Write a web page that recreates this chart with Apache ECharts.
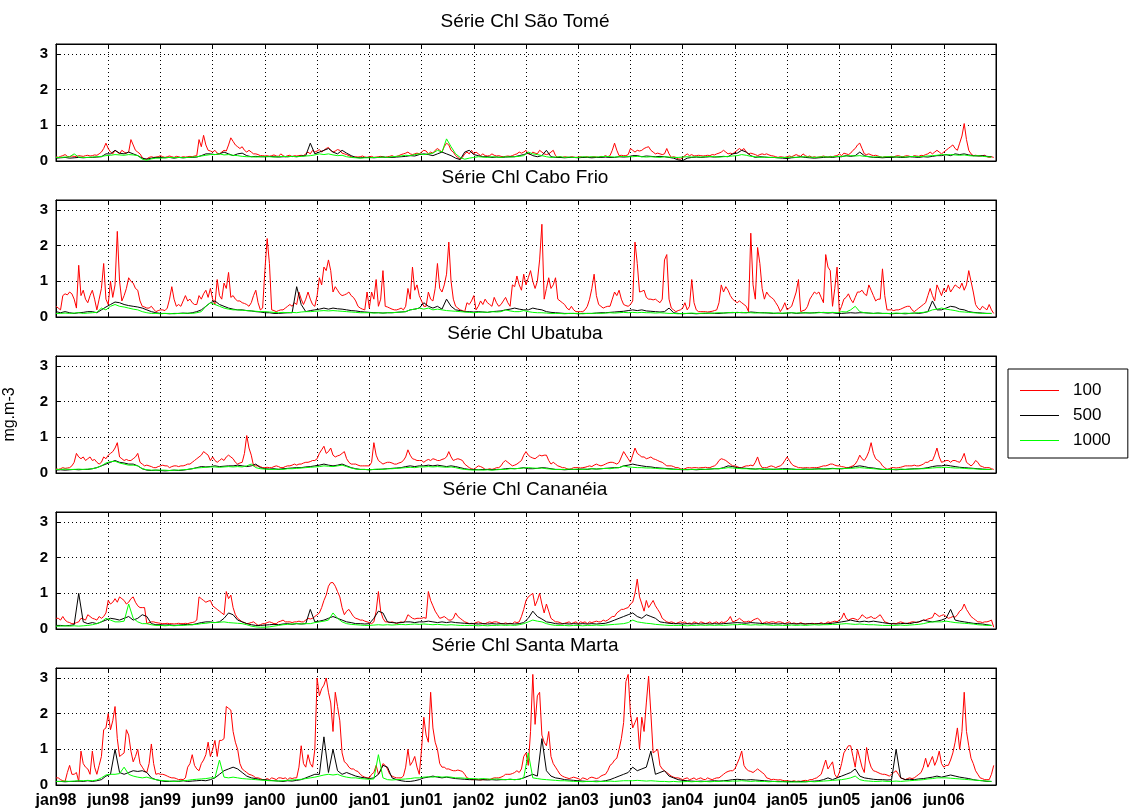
<!DOCTYPE html>
<html><head><meta charset="utf-8">
<script src="https://cdn.jsdelivr.net/npm/echarts/dist/echarts.min.js"></script>
<style>html,body{margin:0;padding:0;background:#fff}#c{width:1129px;height:812px}</style>
</head><body><div id="c"></div>
<script>
// x axis: 8-day composites, index 0 = jan98; tick every 23 composites
const xTickLabels = ['jan98','jun98','jan99','jun99','jan00','jun00','jan01','jun01','jan02','jun02','jan03','jun03','jan04','jun04','jan05','jun05','jan06','jun06'];
const panelTitles = ['Série Chl São Tomé','Série Chl Cabo Frio','Série Chl Ubatuba','Série Chl Cananéia','Série Chl Santa Marta'];
const seriesNames = ['100','500','1000'];
const yLabel = 'mg.m-3';

// ---- São Tomé (100 m: every composite; 500/1000 m: every 2nd composite) ----
const saoTome100 = [
0.12,0.1,0.13,0.15,0.18,0.13,0.12,0.14,0.13,0.12,0.15,0.14,0.13,0.15,0.16,0.14,0.15,0.17,0.16,0.2,0.25,0.35,0.5,
0.35,0.25,0.2,0.3,0.25,0.2,0.3,0.25,0.22,0.25,0.6,0.45,0.3,0.25,0.2,0.1,0.05,0.06,0.1,0.12,0.1,0.11,0.12,
0.15,0.12,0.1,0.12,0.14,0.12,0.1,0.13,0.12,0.1,0.12,0.11,0.12,0.13,0.12,0.14,0.15,0.6,0.4,0.72,0.45,0.3,0.28,
0.25,0.3,0.22,0.2,0.25,0.3,0.28,0.45,0.65,0.55,0.45,0.4,0.35,0.4,0.3,0.25,0.3,0.25,0.2,0.2,0.18,0.15,0.15,
0.14,0.15,0.13,0.15,0.17,0.14,0.13,0.2,0.15,0.12,0.15,0.16,0.12,0.15,0.14,0.15,0.16,0.15,0.2,0.25,0.2,0.3,0.25,
0.28,0.32,0.25,0.3,0.35,0.38,0.3,0.25,0.28,0.32,0.3,0.22,0.2,0.18,0.15,0.12,0.1,0.12,0.11,0.12,0.14,0.11,0.1,
0.12,0.13,0.1,0.11,0.12,0.13,0.12,0.1,0.12,0.13,0.15,0.12,0.13,0.15,0.18,0.2,0.22,0.25,0.2,0.18,0.2,0.22,0.2,
0.25,0.3,0.28,0.2,0.25,0.22,0.3,0.35,0.3,0.25,0.4,0.5,0.45,0.3,0.25,0.15,0.1,0.05,0.1,0.2,0.25,0.2,0.3,
0.2,0.25,0.2,0.15,0.2,0.15,0.14,0.15,0.2,0.16,0.14,0.15,0.13,0.12,0.13,0.14,0.13,0.15,0.18,0.2,0.25,0.22,0.25,
0.3,0.2,0.18,0.25,0.22,0.2,0.3,0.25,0.2,0.18,0.2,0.25,0.3,0.15,0.1,0.12,0.1,0.12,0.11,0.1,0.12,0.11,0.1,
0.11,0.12,0.1,0.11,0.12,0.1,0.11,0.12,0.11,0.1,0.13,0.12,0.15,0.12,0.15,0.3,0.5,0.3,0.15,0.16,0.15,0.15,0.18,
0.35,0.3,0.25,0.3,0.28,0.3,0.35,0.38,0.4,0.3,0.25,0.2,0.22,0.2,0.18,0.2,0.35,0.2,0.1,0.12,0.1,0.06,0.05,
0.1,0.15,0.2,0.15,0.18,0.14,0.15,0.16,0.15,0.14,0.15,0.16,0.15,0.18,0.17,0.2,0.22,0.25,0.3,0.25,0.2,0.22,0.2,
0.25,0.3,0.35,0.3,0.35,0.25,0.2,0.22,0.2,0.18,0.15,0.18,0.2,0.18,0.2,0.17,0.15,0.14,0.12,0.1,0.12,0.11,0.1,
0.12,0.14,0.12,0.15,0.18,0.15,0.13,0.2,0.15,0.12,0.14,0.1,0.12,0.1,0.11,0.12,0.14,0.12,0.1,0.13,0.12,0.14,0.15,
0.2,0.15,0.22,0.2,0.18,0.22,0.3,0.35,0.45,0.5,0.35,0.2,0.18,0.2,0.17,0.15,0.16,0.14,0.12,0.1,0.12,0.11,0.12,
0.13,0.12,0.14,0.15,0.13,0.12,0.14,0.15,0.13,0.12,0.15,0.14,0.13,0.16,0.15,0.18,0.2,0.25,0.2,0.25,0.3,0.25,0.2,
0.25,0.3,0.35,0.4,0.45,0.35,0.3,0.5,0.7,1.05,0.6,0.3,0.2,0.15,0.16,0.15,0.14,0.15,0.16,0.12,0.1,0.12,0.1];
const saoTome500 = [
0.08,0.09,0.1,0.08,0.09,0.1,0.09,0.1,0.1,0.11,0.12,0.2,
0.2,0.3,0.22,0.2,0.25,0.2,0.15,0.08,0.05,0.08,0.1,
0.1,0.09,0.1,0.08,0.1,0.09,0.1,0.1,0.11,0.15,0.2,0.2,
0.18,0.2,0.25,0.2,0.15,0.2,0.22,0.15,0.12,0.13,0.12,
0.12,0.13,0.12,0.11,0.12,0.12,0.13,0.12,0.14,0.15,0.5,0.2,
0.25,0.3,0.35,0.25,0.2,0.3,0.22,0.15,0.1,0.09,0.1,
0.1,0.09,0.1,0.11,0.1,0.1,0.11,0.12,0.13,0.15,0.14,0.18,
0.2,0.18,0.15,0.2,0.25,0.2,0.15,0.08,0.04,0.25,0.3,
0.18,0.15,0.12,0.12,0.1,0.11,0.1,0.11,0.12,0.12,0.15,0.18,
0.22,0.15,0.12,0.15,0.3,0.12,0.1,0.1,0.09,0.1,0.1,
0.09,0.1,0.1,0.09,0.1,0.1,0.11,0.1,0.1,0.12,0.11,0.12,
0.15,0.15,0.12,0.14,0.13,0.12,0.13,0.12,0.1,0.08,0.03,
0.01,0.08,0.1,0.11,0.1,0.11,0.12,0.11,0.12,0.13,0.12,0.2,
0.22,0.3,0.25,0.15,0.1,0.12,0.11,0.1,0.1,0.09,0.08,
0.07,0.09,0.1,0.12,0.1,0.09,0.08,0.09,0.1,0.11,0.1,0.12,
0.12,0.15,0.13,0.15,0.25,0.15,0.12,0.1,0.1,0.09,0.1,
0.1,0.11,0.1,0.1,0.12,0.11,0.1,0.12,0.11,0.13,0.15,0.15,
0.18,0.15,0.2,0.18,0.2,0.17,0.15,0.14,0.15,0.13,0.12];
const saoTome1000 = [
0.1,0.1,0.11,0.12,0.2,0.11,0.1,0.1,0.11,0.12,0.13,0.15,
0.16,0.18,0.17,0.16,0.18,0.17,0.15,0.05,0.02,0.06,0.08,
0.08,0.09,0.1,0.09,0.1,0.09,0.1,0.11,0.12,0.14,0.16,0.18,
0.18,0.2,0.17,0.18,0.16,0.15,0.13,0.12,0.12,0.11,0.12,
0.12,0.12,0.11,0.12,0.13,0.12,0.13,0.12,0.13,0.14,0.15,0.17,
0.2,0.18,0.2,0.17,0.15,0.16,0.12,0.1,0.09,0.08,0.09,
0.09,0.1,0.1,0.11,0.1,0.12,0.13,0.14,0.16,0.15,0.18,0.2,
0.18,0.2,0.22,0.3,0.25,0.62,0.4,0.2,0.1,0.05,0.08,
0.1,0.12,0.11,0.1,0.12,0.11,0.1,0.12,0.11,0.12,0.13,0.15,
0.25,0.2,0.18,0.15,0.12,0.1,0.11,0.12,0.1,0.11,0.1,
0.1,0.12,0.11,0.12,0.11,0.12,0.13,0.12,0.11,0.12,0.13,0.12,
0.12,0.13,0.12,0.11,0.12,0.11,0.1,0.12,0.11,0.1,0.1,
0.11,0.12,0.11,0.12,0.11,0.12,0.13,0.12,0.11,0.12,0.13,0.14,
0.15,0.18,0.16,0.13,0.12,0.1,0.11,0.1,0.1,0.09,0.1,
0.1,0.11,0.1,0.11,0.12,0.11,0.1,0.11,0.12,0.11,0.12,0.13,
0.13,0.14,0.15,0.14,0.15,0.13,0.12,0.11,0.12,0.11,0.12,
0.12,0.11,0.12,0.11,0.12,0.13,0.12,0.13,0.14,0.15,0.16,0.18,
0.17,0.18,0.17,0.16,0.17,0.15,0.14,0.15,0.13,0.12,0.11];

// ---- Cabo Frio ----
const caboFrio100 = [
0.3,0.25,0.2,0.6,0.65,0.62,0.7,0.65,0.5,0.25,1.45,0.6,0.75,0.5,0.4,0.6,0.75,0.5,0.2,0.5,0.8,1.5,0.5,
0.35,1.0,0.55,0.9,2.4,1.0,0.45,0.6,0.8,1.1,1.0,0.95,0.8,0.75,0.45,0.3,0.28,0.25,0.25,0.3,0.22,0.15,0.18,
0.2,0.2,0.18,0.25,0.5,0.85,0.5,0.3,0.35,0.3,0.45,0.6,0.45,0.5,0.4,0.35,0.35,0.6,0.5,0.65,0.75,0.55,0.8,
0.5,0.35,1.05,0.6,0.5,0.95,0.8,1.25,0.55,0.6,0.5,0.45,0.45,0.4,0.38,0.35,0.3,0.4,0.6,0.75,0.4,0.2,0.25,
1.3,2.2,1.5,0.2,0.18,0.15,0.18,0.2,0.2,0.25,0.3,0.35,0.3,0.4,0.35,0.7,0.5,0.35,0.5,0.7,0.5,0.35,0.3,
0.6,1.1,0.9,1.4,1.3,1.6,1.3,0.7,0.85,0.75,0.65,0.6,0.62,0.65,0.7,0.6,0.55,0.45,0.3,0.25,0.22,0.2,0.7,
0.25,0.7,0.5,1.05,0.3,0.5,1.3,0.3,0.28,0.25,0.22,0.2,0.2,0.22,0.25,0.2,0.3,0.8,0.5,1.4,0.75,0.9,0.6,
0.45,0.3,0.3,0.7,0.5,0.45,0.8,1.5,0.8,0.7,0.9,1.2,2.1,1.0,0.5,0.3,0.25,0.2,0.18,0.15,0.4,0.35,0.45,
0.6,0.2,0.3,0.45,0.35,0.5,0.4,0.35,0.3,0.55,0.4,0.3,0.35,0.45,0.55,0.4,0.3,0.9,0.85,1.15,0.9,0.75,1.2,
0.9,1.1,1.3,1.0,0.8,1.0,1.6,2.6,0.5,0.8,1.1,0.8,0.9,1.1,0.5,0.45,0.4,0.35,0.25,0.2,0.3,0.2,0.15,
0.15,0.15,0.15,0.2,0.3,0.5,0.8,1.2,0.6,0.35,0.3,0.25,0.28,0.3,0.3,0.5,0.7,0.6,0.75,0.5,0.35,0.32,0.3,
0.35,0.45,2.1,1.5,0.7,0.72,0.75,0.55,0.5,0.5,0.48,0.5,0.45,0.4,0.5,1.6,1.75,0.5,0.25,0.2,0.15,0.18,0.2,
0.25,0.4,0.2,0.3,1.05,0.4,0.2,0.15,0.15,0.15,0.15,0.14,0.15,0.16,0.18,0.2,0.4,0.9,0.7,0.85,0.75,0.6,0.5,
0.45,0.4,0.45,0.4,0.35,0.3,0.15,2.35,0.9,0.5,1.95,1.5,0.8,0.5,0.7,0.6,0.55,0.5,0.4,0.3,0.15,0.25,0.4,
0.2,0.25,0.3,0.5,0.7,1.05,0.15,0.18,0.2,0.3,0.5,0.6,0.7,0.65,0.7,0.55,0.4,1.75,1.4,1.3,0.3,0.8,1.4,
0.15,0.3,0.5,0.55,0.65,0.5,0.4,0.55,0.7,0.7,0.75,0.65,0.6,0.9,0.75,0.6,0.45,0.5,0.5,1.35,0.6,0.2,0.2,
0.2,0.18,0.2,0.2,0.22,0.25,0.28,0.3,0.3,0.2,0.15,0.2,0.25,0.3,0.35,0.4,0.6,0.8,0.6,0.45,0.9,0.75,0.6,
0.8,0.7,0.9,0.7,0.8,0.9,0.85,0.8,0.95,0.75,0.9,1.3,1.0,0.7,0.35,0.25,0.2,0.3,0.25,0.2,0.35,0.2,0.1];
const caboFrio500 = [
0.15,0.12,0.15,0.12,0.1,0.12,0.13,0.15,0.15,0.12,0.2,0.28,
0.35,0.42,0.4,0.35,0.32,0.3,0.28,0.25,0.2,0.15,0.12,
0.1,0.1,0.09,0.1,0.1,0.11,0.1,0.12,0.15,0.2,0.3,0.4,
0.45,0.35,0.3,0.25,0.22,0.2,0.2,0.18,0.17,0.15,0.14,
0.12,0.12,0.1,0.1,0.11,0.12,0.12,0.85,0.35,0.15,0.18,0.2,
0.22,0.25,0.22,0.25,0.23,0.22,0.2,0.18,0.17,0.15,0.14,
0.13,0.12,0.12,0.11,0.12,0.12,0.13,0.14,0.15,0.2,0.22,0.25,
0.4,0.3,0.25,0.3,0.22,0.5,0.3,0.2,0.18,0.15,0.15,
0.14,0.15,0.14,0.13,0.15,0.16,0.17,0.2,0.22,0.25,0.22,0.2,
0.2,0.25,0.22,0.2,0.15,0.13,0.12,0.11,0.1,0.1,0.1,
0.09,0.1,0.1,0.1,0.11,0.12,0.12,0.13,0.14,0.15,0.16,0.18,
0.2,0.18,0.2,0.17,0.16,0.15,0.14,0.15,0.25,0.12,0.1,
0.09,0.1,0.1,0.09,0.1,0.1,0.11,0.1,0.1,0.11,0.12,0.12,
0.13,0.12,0.12,0.14,0.13,0.12,0.12,0.11,0.1,0.11,0.1,
0.11,0.12,0.1,0.11,0.12,0.11,0.12,0.13,0.12,0.11,0.12,0.1,
0.1,0.11,0.12,0.11,0.12,0.12,0.11,0.1,0.11,0.1,0.1,
0.09,0.1,0.1,0.09,0.1,0.11,0.1,0.12,0.15,0.45,0.2,0.2,
0.25,0.3,0.28,0.22,0.2,0.15,0.13,0.12,0.11,0.1,0.1];
const caboFrio1000 = [
0.1,0.1,0.11,0.1,0.11,0.12,0.1,0.11,0.12,0.13,0.25,0.2,
0.3,0.35,0.3,0.28,0.25,0.22,0.2,0.15,0.12,0.1,0.1,
0.09,0.1,0.1,0.09,0.1,0.1,0.11,0.1,0.12,0.15,0.3,0.4,
0.35,0.3,0.25,0.22,0.2,0.2,0.19,0.18,0.17,0.16,0.15,
0.15,0.14,0.13,0.12,0.13,0.12,0.13,0.12,0.14,0.15,0.15,0.16,
0.17,0.18,0.17,0.18,0.17,0.16,0.15,0.14,0.13,0.12,0.12,
0.12,0.11,0.12,0.11,0.12,0.12,0.13,0.14,0.15,0.2,0.22,0.25,
0.22,0.25,0.2,0.22,0.2,0.18,0.17,0.16,0.15,0.14,0.13,
0.12,0.13,0.14,0.13,0.15,0.14,0.15,0.2,0.17,0.15,0.15,0.18,
0.15,0.13,0.12,0.12,0.11,0.1,0.1,0.1,0.09,0.1,0.1,
0.1,0.09,0.1,0.1,0.11,0.1,0.11,0.12,0.11,0.12,0.13,0.12,
0.13,0.12,0.13,0.12,0.12,0.11,0.12,0.11,0.1,0.1,0.09,
0.1,0.1,0.11,0.1,0.1,0.11,0.1,0.11,0.12,0.11,0.12,0.13,
0.12,0.13,0.12,0.12,0.11,0.12,0.11,0.12,0.11,0.1,0.11,
0.11,0.12,0.11,0.12,0.11,0.12,0.11,0.12,0.13,0.12,0.13,0.12,
0.15,0.14,0.2,0.3,0.15,0.12,0.11,0.1,0.11,0.1,0.1,
0.1,0.11,0.1,0.11,0.1,0.11,0.12,0.13,0.15,0.2,0.22,0.25,
0.22,0.2,0.18,0.15,0.14,0.13,0.12,0.11,0.1,0.1,0.1];

// ---- Ubatuba ----
const ubatuba100 = [
0.12,0.1,0.12,0.15,0.13,0.14,0.15,0.2,0.3,0.55,0.45,0.4,0.45,0.35,0.4,0.45,0.35,0.38,0.3,0.25,0.3,0.45,0.4,
0.5,0.55,0.6,0.7,0.85,0.45,0.4,0.35,0.38,0.35,0.35,0.4,0.45,0.55,0.3,0.25,0.2,0.22,0.2,0.18,0.15,0.15,0.18,
0.2,0.22,0.2,0.2,0.15,0.18,0.2,0.2,0.18,0.2,0.2,0.22,0.25,0.25,0.3,0.35,0.4,0.45,0.5,0.6,0.55,0.5,0.35,
0.45,0.35,0.3,0.35,0.4,0.35,0.45,0.5,0.45,0.4,0.3,0.25,0.28,0.3,0.55,1.05,0.7,0.5,0.2,0.2,0.2,0.18,0.15,
0.15,0.16,0.15,0.15,0.18,0.2,0.18,0.15,0.15,0.18,0.2,0.2,0.22,0.25,0.22,0.25,0.25,0.28,0.3,0.3,0.32,0.35,0.35,
0.4,0.55,0.65,0.75,0.55,0.6,0.7,0.5,0.45,0.48,0.5,0.55,0.6,0.4,0.3,0.25,0.25,0.25,0.22,0.2,0.2,0.2,0.2,
0.2,0.3,0.85,0.5,0.35,0.3,0.25,0.28,0.3,0.3,0.28,0.25,0.25,0.28,0.3,0.35,0.45,0.65,0.5,0.4,0.38,0.35,0.35,
0.35,0.3,0.35,0.38,0.35,0.4,0.38,0.35,0.35,0.38,0.4,0.45,0.6,0.45,0.35,0.38,0.4,0.38,0.35,0.25,0.2,0.15,0.12,
0.1,0.15,0.2,0.18,0.15,0.1,0.1,0.12,0.1,0.12,0.15,0.15,0.2,0.3,0.35,0.3,0.25,0.2,0.22,0.25,0.3,0.35,0.5,
0.6,0.5,0.45,0.42,0.4,0.45,0.5,0.48,0.5,0.5,0.35,0.25,0.3,0.25,0.2,0.18,0.15,0.15,0.12,0.1,0.12,0.15,0.15,
0.15,0.14,0.15,0.16,0.18,0.2,0.18,0.22,0.25,0.22,0.2,0.22,0.25,0.28,0.3,0.3,0.28,0.25,0.3,0.45,0.6,0.5,0.4,
0.3,0.5,0.7,0.55,0.5,0.45,0.45,0.4,0.42,0.45,0.4,0.38,0.35,0.32,0.3,0.25,0.2,0.2,0.2,0.18,0.15,0.15,0.12,
0.1,0.12,0.15,0.15,0.14,0.15,0.15,0.14,0.15,0.15,0.16,0.15,0.15,0.18,0.2,0.25,0.35,0.4,0.38,0.35,0.3,0.25,0.2,
0.2,0.18,0.15,0.15,0.18,0.2,0.2,0.22,0.2,0.3,0.45,0.25,0.15,0.15,0.15,0.18,0.2,0.18,0.15,0.18,0.2,0.25,0.35,
0.45,0.35,0.25,0.2,0.18,0.15,0.15,0.14,0.15,0.15,0.14,0.15,0.15,0.15,0.16,0.18,0.2,0.2,0.22,0.25,0.25,0.22,0.2,
0.2,0.18,0.17,0.15,0.15,0.18,0.2,0.25,0.35,0.5,0.4,0.35,0.45,0.6,0.85,0.55,0.4,0.35,0.3,0.2,0.15,0.1,0.12,
0.15,0.15,0.14,0.15,0.16,0.18,0.2,0.2,0.2,0.2,0.22,0.2,0.2,0.22,0.25,0.3,0.3,0.35,0.35,0.5,0.7,0.45,0.3,
0.32,0.35,0.35,0.3,0.35,0.35,0.32,0.3,0.4,0.55,0.3,0.25,0.2,0.25,0.35,0.3,0.2,0.18,0.15,0.15,0.15,0.12,0.1];
const ubatuba500 = [
0.08,0.09,0.08,0.09,0.1,0.09,0.1,0.1,0.12,0.15,0.2,0.25,
0.3,0.35,0.3,0.28,0.25,0.25,0.2,0.12,0.08,0.07,0.08,
0.07,0.06,0.07,0.08,0.07,0.08,0.1,0.12,0.15,0.18,0.17,0.18,
0.2,0.18,0.19,0.2,0.2,0.22,0.2,0.18,0.2,0.25,0.15,
0.12,0.11,0.12,0.1,0.12,0.13,0.14,0.15,0.15,0.17,0.18,0.2,
0.22,0.25,0.22,0.2,0.22,0.25,0.2,0.15,0.12,0.1,0.1,
0.09,0.1,0.1,0.11,0.12,0.13,0.14,0.15,0.18,0.2,0.18,0.2,
0.2,0.22,0.2,0.22,0.2,0.18,0.2,0.18,0.15,0.12,0.1,
0.1,0.09,0.1,0.1,0.09,0.1,0.1,0.12,0.13,0.12,0.13,0.15,
0.12,0.12,0.13,0.15,0.14,0.12,0.1,0.1,0.09,0.1,0.1,
0.1,0.11,0.1,0.12,0.11,0.12,0.13,0.14,0.15,0.15,0.2,0.22,
0.25,0.22,0.2,0.18,0.17,0.15,0.14,0.13,0.12,0.11,0.1,
0.09,0.1,0.1,0.09,0.1,0.1,0.11,0.12,0.12,0.15,0.2,0.18,
0.15,0.14,0.13,0.12,0.11,0.12,0.1,0.11,0.1,0.11,0.12,
0.12,0.11,0.1,0.1,0.11,0.1,0.11,0.12,0.11,0.12,0.13,0.12,
0.12,0.13,0.15,0.18,0.2,0.18,0.15,0.14,0.12,0.1,0.1,
0.1,0.09,0.1,0.1,0.11,0.12,0.12,0.13,0.15,0.18,0.2,0.2,
0.22,0.2,0.18,0.16,0.15,0.14,0.13,0.12,0.11,0.1,0.1];
const ubatuba1000 = [
0.1,0.1,0.11,0.1,0.1,0.11,0.1,0.11,0.12,0.15,0.2,0.28,
0.32,0.33,0.28,0.25,0.22,0.22,0.2,0.12,0.09,0.08,0.08,
0.08,0.08,0.07,0.08,0.08,0.09,0.1,0.12,0.14,0.15,0.16,0.17,
0.17,0.16,0.17,0.18,0.17,0.18,0.17,0.2,0.25,0.15,0.12,
0.11,0.1,0.1,0.11,0.1,0.12,0.12,0.13,0.14,0.15,0.16,0.17,
0.18,0.2,0.19,0.18,0.2,0.22,0.18,0.14,0.11,0.1,0.1,
0.09,0.1,0.11,0.1,0.12,0.12,0.13,0.14,0.15,0.16,0.15,0.17,
0.17,0.18,0.17,0.18,0.17,0.16,0.17,0.15,0.12,0.1,0.09,
0.08,0.09,0.08,0.09,0.08,0.09,0.1,0.1,0.12,0.12,0.13,0.14,
0.15,0.14,0.13,0.14,0.12,0.11,0.1,0.1,0.1,0.11,0.1,
0.11,0.1,0.11,0.12,0.11,0.12,0.13,0.12,0.14,0.15,0.2,0.17,
0.16,0.15,0.15,0.14,0.14,0.13,0.12,0.12,0.11,0.1,0.1,
0.1,0.09,0.1,0.1,0.11,0.1,0.11,0.12,0.12,0.13,0.15,0.14,
0.13,0.12,0.12,0.11,0.11,0.12,0.11,0.1,0.11,0.1,0.1,
0.1,0.11,0.1,0.1,0.11,0.1,0.11,0.11,0.12,0.11,0.12,0.12,
0.12,0.13,0.13,0.14,0.15,0.14,0.13,0.12,0.11,0.1,0.1,
0.1,0.1,0.11,0.1,0.11,0.11,0.12,0.12,0.13,0.14,0.15,0.15,
0.16,0.15,0.14,0.14,0.13,0.12,0.12,0.11,0.1,0.1,0.1];

// ---- Cananéia ----
const cananeia100 = [
0.3,0.3,0.25,0.35,0.25,0.2,0.18,0.15,0.15,0.18,0.2,0.3,0.28,0.25,0.4,0.35,0.3,0.28,0.25,0.35,0.3,0.35,0.45,
0.8,0.7,0.75,0.85,0.75,0.9,0.85,0.8,0.7,0.75,0.85,0.9,0.75,0.65,0.6,0.6,0.6,0.15,0.18,0.2,0.2,0.18,0.17,
0.16,0.15,0.15,0.16,0.15,0.15,0.14,0.15,0.16,0.15,0.15,0.16,0.15,0.17,0.18,0.2,0.25,0.9,0.85,0.8,0.75,0.78,0.8,
0.65,0.6,0.55,0.5,0.45,0.4,1.05,0.85,0.95,0.6,0.4,0.3,0.25,0.2,0.18,0.15,0.16,0.18,0.2,0.15,0.1,0.12,0.15,
0.15,0.18,0.2,0.18,0.15,0.15,0.2,0.22,0.25,0.2,0.2,0.2,0.18,0.2,0.2,0.22,0.2,0.2,0.25,0.3,0.28,0.3,0.35,
0.4,0.45,0.6,0.8,0.95,1.2,1.3,1.3,1.2,1.05,0.9,0.6,0.4,0.5,0.55,0.45,0.35,0.3,0.28,0.25,0.25,0.22,0.2,
0.18,0.15,0.2,0.5,1.05,0.5,0.3,0.2,0.2,0.18,0.2,0.18,0.15,0.18,0.2,0.18,0.25,0.4,0.35,0.3,0.28,0.3,0.3,
0.3,0.32,0.3,1.05,0.8,0.65,0.5,0.4,0.3,0.32,0.35,0.3,0.25,0.25,0.3,0.45,0.35,0.3,0.25,0.2,0.18,0.15,0.16,
0.15,0.18,0.2,0.18,0.15,0.15,0.18,0.2,0.18,0.2,0.2,0.18,0.15,0.15,0.17,0.15,0.16,0.15,0.2,0.18,0.2,0.35,0.55,
0.8,0.9,0.95,1.0,0.65,0.8,1.0,0.7,0.45,0.7,0.5,0.3,0.25,0.2,0.2,0.18,0.15,0.16,0.18,0.2,0.15,0.18,0.2,
0.15,0.2,0.18,0.2,0.15,0.2,0.18,0.2,0.22,0.2,0.2,0.25,0.22,0.25,0.3,0.35,0.35,0.45,0.5,0.55,0.55,0.58,0.6,
0.7,0.75,1.0,1.4,0.9,0.7,0.5,0.8,0.6,0.7,0.8,0.65,0.55,0.45,0.3,0.25,0.2,0.18,0.2,0.18,0.15,0.18,0.2,
0.18,0.2,0.15,0.17,0.15,0.2,0.18,0.15,0.2,0.18,0.15,0.17,0.2,0.15,0.18,0.2,0.15,0.2,0.18,0.2,0.25,0.35,0.2,
0.22,0.25,0.3,0.25,0.2,0.2,0.22,0.2,0.25,0.28,0.3,0.25,0.15,0.18,0.2,0.18,0.2,0.2,0.18,0.2,0.2,0.18,0.15,
0.18,0.2,0.15,0.17,0.15,0.15,0.18,0.15,0.14,0.15,0.15,0.16,0.15,0.15,0.15,0.18,0.15,0.16,0.2,0.18,0.2,0.22,0.2,
0.25,0.3,0.45,0.3,0.25,0.28,0.3,0.28,0.25,0.3,0.4,0.35,0.3,0.32,0.35,0.3,0.3,0.35,0.4,0.3,0.2,0.18,0.15,
0.15,0.16,0.15,0.18,0.2,0.18,0.15,0.16,0.18,0.2,0.2,0.18,0.2,0.22,0.25,0.25,0.28,0.3,0.32,0.45,0.4,0.35,0.38,
0.4,0.35,0.3,0.32,0.35,0.33,0.4,0.5,0.55,0.7,0.55,0.45,0.35,0.3,0.25,0.2,0.2,0.18,0.2,0.2,0.22,0.25,0.05];
const cananeia500 = [
0.1,0.1,0.09,0.1,0.12,1.0,0.2,0.15,0.18,0.15,0.2,0.25,
0.3,0.28,0.25,0.3,0.35,0.25,0.3,0.4,0.35,0.15,0.12,
0.12,0.11,0.12,0.1,0.11,0.12,0.13,0.12,0.15,0.18,0.2,0.2,
0.18,0.2,0.3,0.45,0.4,0.25,0.2,0.15,0.12,0.1,0.1,
0.11,0.12,0.13,0.12,0.14,0.15,0.13,0.15,0.14,0.15,0.55,0.2,
0.22,0.25,0.3,0.35,0.3,0.25,0.2,0.18,0.15,0.15,0.14,
0.15,0.3,0.5,0.45,0.2,0.18,0.17,0.18,0.2,0.2,0.18,0.2,
0.2,0.22,0.2,0.18,0.2,0.18,0.2,0.18,0.17,0.16,0.15,
0.15,0.14,0.15,0.14,0.15,0.14,0.15,0.14,0.15,0.14,0.15,0.18,
0.3,0.5,0.35,0.28,0.2,0.18,0.15,0.14,0.15,0.14,0.15,
0.14,0.15,0.14,0.15,0.14,0.15,0.16,0.2,0.25,0.3,0.35,0.4,
0.45,0.35,0.3,0.4,0.35,0.3,0.2,0.18,0.16,0.15,0.15,
0.14,0.15,0.14,0.15,0.14,0.15,0.14,0.15,0.14,0.15,0.16,0.17,
0.18,0.17,0.16,0.18,0.17,0.16,0.15,0.14,0.15,0.14,0.15,
0.14,0.15,0.14,0.15,0.14,0.15,0.14,0.15,0.14,0.15,0.16,0.18,
0.2,0.22,0.25,0.22,0.2,0.22,0.2,0.22,0.2,0.18,0.16,
0.15,0.14,0.15,0.16,0.15,0.18,0.2,0.25,0.22,0.2,0.22,0.25,
0.3,0.55,0.25,0.22,0.2,0.18,0.16,0.15,0.14,0.12,0.1];
const cananeia1000 = [
0.08,0.08,0.09,0.08,0.09,0.08,0.09,0.1,0.12,0.15,0.2,0.3,
0.25,0.2,0.2,0.22,0.7,0.3,0.2,0.15,0.15,0.12,0.1,
0.1,0.09,0.1,0.09,0.1,0.1,0.11,0.12,0.13,0.15,0.16,0.18,
0.18,0.19,0.2,0.18,0.17,0.16,0.15,0.12,0.08,0.06,0.05,
0.05,0.06,0.08,0.1,0.12,0.13,0.14,0.15,0.14,0.15,0.15,0.18,
0.2,0.22,0.25,0.45,0.3,0.2,0.15,0.13,0.12,0.11,0.1,
0.1,0.11,0.12,0.11,0.12,0.11,0.12,0.13,0.12,0.13,0.14,0.13,
0.14,0.13,0.12,0.13,0.12,0.11,0.12,0.11,0.1,0.1,0.1,
0.1,0.09,0.1,0.09,0.1,0.1,0.11,0.1,0.11,0.1,0.12,0.15,
0.2,0.25,0.22,0.2,0.15,0.12,0.1,0.1,0.1,0.09,0.1,
0.1,0.09,0.1,0.1,0.11,0.1,0.11,0.12,0.13,0.14,0.15,0.18,
0.25,0.2,0.18,0.16,0.15,0.13,0.12,0.11,0.1,0.1,0.1,
0.1,0.09,0.1,0.1,0.11,0.1,0.11,0.1,0.11,0.1,0.11,0.12,
0.12,0.13,0.12,0.11,0.12,0.11,0.12,0.11,0.1,0.11,0.1,
0.1,0.11,0.1,0.11,0.1,0.11,0.12,0.11,0.12,0.12,0.13,0.13,
0.14,0.15,0.14,0.13,0.14,0.13,0.12,0.12,0.11,0.1,0.1,
0.1,0.1,0.11,0.1,0.11,0.12,0.13,0.15,0.18,0.2,0.2,0.2,
0.22,0.2,0.18,0.17,0.16,0.15,0.14,0.12,0.11,0.1,0.1];

// ---- Santa Marta ----
const santaMarta100 = [
0.2,0.2,0.15,0.12,0.1,0.35,0.55,0.3,0.3,0.35,0.1,0.95,0.6,0.5,0.45,0.3,0.95,0.5,0.3,0.55,0.8,1.55,1.6,
2.0,1.55,1.8,2.2,1.3,0.8,0.85,0.9,1.55,1.4,0.95,0.65,0.8,1.0,0.6,0.5,0.4,0.35,0.6,1.15,0.6,0.3,0.32,
0.3,0.3,0.28,0.25,0.22,0.2,0.2,0.18,0.15,0.16,0.15,0.2,0.5,0.6,0.85,0.55,0.45,0.4,0.6,0.7,0.85,1.2,0.8,
1.0,1.25,0.8,1.25,1.25,1.3,2.2,2.15,2.1,1.5,1.2,1.0,0.6,0.45,0.4,0.35,0.3,0.28,0.25,0.2,0.2,0.18,0.15,
0.15,0.18,0.15,0.2,0.18,0.15,0.2,0.2,0.18,0.2,0.15,0.2,0.18,0.2,0.2,0.5,1.1,0.6,0.5,0.85,0.6,0.5,1.0,
3.0,2.5,2.7,2.8,3.0,2.6,2.3,1.5,2.6,2.2,1.8,0.9,0.65,0.6,0.5,0.45,0.45,0.4,0.38,0.3,0.25,0.22,0.2,
0.2,0.3,0.35,0.55,0.3,0.4,0.6,0.55,0.45,0.3,0.25,0.22,0.2,0.2,0.2,0.25,0.5,1.0,0.55,0.65,0.8,0.5,0.3,
1.0,1.9,1.4,1.2,2.6,1.6,1.2,1.0,0.6,0.5,0.5,0.45,0.45,0.42,0.4,0.4,0.42,0.4,0.38,0.3,0.2,0.18,0.15,
0.15,0.16,0.15,0.14,0.15,0.15,0.16,0.15,0.18,0.2,0.2,0.2,0.22,0.25,0.3,0.3,0.3,0.32,0.35,0.4,0.35,0.45,0.8,
0.9,0.55,1.5,3.1,1.7,2.5,2.6,1.4,1.2,1.1,1.5,0.8,0.6,0.5,0.4,0.3,0.25,0.22,0.2,0.18,0.2,0.22,0.2,
0.18,0.15,0.2,0.18,0.15,0.2,0.22,0.2,0.18,0.2,0.25,0.28,0.3,0.4,0.55,0.6,0.7,0.75,1.0,1.3,1.75,2.9,3.1,
2.0,1.6,1.75,1.9,1.0,1.9,1.5,2.3,3.05,2.0,0.9,0.95,1.0,0.55,0.45,0.4,0.35,0.3,0.25,0.22,0.2,0.2,0.18,
0.15,0.18,0.2,0.15,0.17,0.2,0.15,0.18,0.2,0.16,0.15,0.2,0.17,0.15,0.18,0.2,0.2,0.25,0.3,0.35,0.38,0.4,0.4,
0.45,0.6,0.75,0.95,0.55,0.45,0.4,0.38,0.35,0.4,0.45,0.4,0.35,0.3,0.2,0.18,0.15,0.16,0.15,0.14,0.15,0.13,0.12,
0.12,0.11,0.1,0.12,0.1,0.11,0.1,0.12,0.13,0.12,0.15,0.15,0.18,0.2,0.25,0.3,0.5,0.7,0.45,0.55,0.65,0.3,0.2,
0.35,0.6,0.9,1.0,1.1,1.1,0.8,0.5,1.0,0.75,0.5,0.35,1.05,0.7,0.5,0.4,0.38,0.35,0.32,0.3,0.3,0.28,0.25,
0.3,0.35,0.4,0.3,0.2,0.18,0.15,0.18,0.2,0.18,0.2,0.25,0.3,0.35,0.5,0.75,0.5,0.65,0.8,0.55,0.7,0.95,0.6,
0.5,0.55,0.55,0.7,0.9,1.2,1.6,1.0,1.5,2.6,1.5,1.1,0.75,0.6,0.4,0.3,0.2,0.18,0.15,0.15,0.15,0.3,0.55];
const santaMarta500 = [
0.1,0.1,0.09,0.1,0.1,0.11,0.1,0.12,0.1,0.12,0.15,0.25,
0.3,1.0,0.35,0.3,0.35,0.4,0.38,0.4,0.35,0.2,0.15,
0.12,0.1,0.1,0.11,0.1,0.12,0.1,0.11,0.12,0.13,0.12,0.15,
0.2,0.3,0.4,0.45,0.5,0.45,0.35,0.25,0.2,0.18,0.15,
0.15,0.13,0.12,0.11,0.1,0.12,0.11,0.13,0.15,0.2,0.25,0.3,
0.3,1.35,0.35,1.0,0.4,0.3,0.35,0.3,0.25,0.22,0.2,
0.18,0.2,0.3,0.55,0.5,0.2,0.15,0.12,0.1,0.1,0.12,0.15,
0.2,0.22,0.25,0.22,0.2,0.22,0.2,0.18,0.17,0.16,0.15,
0.15,0.14,0.15,0.14,0.15,0.14,0.15,0.15,0.16,0.15,0.16,0.2,
0.25,0.3,0.25,1.3,0.4,0.25,0.2,0.18,0.15,0.14,0.13,
0.12,0.11,0.1,0.1,0.11,0.1,0.12,0.15,0.2,0.25,0.3,0.35,
0.5,0.4,0.45,0.5,0.95,0.3,0.35,0.4,0.25,0.2,0.15,
0.13,0.12,0.11,0.1,0.11,0.1,0.11,0.12,0.11,0.12,0.13,0.15,
0.16,0.15,0.14,0.15,0.14,0.13,0.12,0.11,0.1,0.1,0.1,
0.09,0.1,0.09,0.1,0.09,0.1,0.11,0.12,0.15,0.2,0.15,0.2,
0.25,0.3,0.35,0.45,0.25,0.2,0.18,0.16,0.15,0.15,0.14,
0.15,1.0,0.2,0.15,0.16,0.15,0.17,0.18,0.2,0.22,0.25,0.22,
0.25,0.28,0.25,0.22,0.2,0.18,0.15,0.13,0.12,0.1,0.1];
const santaMarta1000 = [
0.1,0.1,0.11,0.1,0.11,0.12,0.12,0.13,0.12,0.14,0.2,0.28,
0.3,0.3,0.32,0.5,0.3,0.25,0.22,0.2,0.22,0.18,0.15,
0.13,0.12,0.11,0.1,0.11,0.12,0.13,0.15,0.16,0.17,0.18,0.2,
0.2,0.7,0.22,0.2,0.22,0.2,0.18,0.17,0.16,0.15,0.14,
0.13,0.12,0.12,0.11,0.12,0.13,0.14,0.15,0.16,0.18,0.2,0.22,
0.25,0.28,0.3,0.28,0.3,0.25,0.22,0.2,0.2,0.18,0.17,
0.16,0.17,0.85,0.2,0.15,0.14,0.15,0.16,0.17,0.18,0.2,0.2,
0.22,0.23,0.22,0.24,0.22,0.23,0.22,0.2,0.2,0.19,0.18,
0.18,0.17,0.18,0.17,0.16,0.17,0.16,0.15,0.16,0.15,0.16,0.2,
0.9,0.2,0.18,0.16,0.15,0.14,0.13,0.12,0.12,0.11,0.1,
0.1,0.09,0.1,0.1,0.09,0.1,0.1,0.11,0.1,0.11,0.12,0.12,
0.12,0.13,0.12,0.11,0.12,0.11,0.1,0.1,0.09,0.1,0.09,
0.09,0.1,0.09,0.1,0.09,0.1,0.09,0.1,0.1,0.11,0.1,0.11,
0.11,0.12,0.11,0.1,0.11,0.1,0.1,0.09,0.1,0.09,0.09,
0.09,0.08,0.09,0.08,0.09,0.1,0.09,0.1,0.11,0.12,0.13,0.14,
0.15,0.17,0.2,0.25,0.15,0.12,0.11,0.1,0.1,0.11,0.1,
0.1,0.11,0.1,0.11,0.12,0.13,0.14,0.15,0.17,0.18,0.2,0.2,
0.2,0.19,0.18,0.17,0.16,0.15,0.14,0.13,0.12,0.11,0.1];

const panels = [
  [saoTome100, saoTome500, saoTome1000],
  [caboFrio100, caboFrio500, caboFrio1000],
  [ubatuba100, ubatuba500, ubatuba1000],
  [cananeia100, cananeia500, cananeia1000],
  [santaMarta100, santaMarta500, santaMarta1000]
];
const colors = ['#ff0000', '#000000', '#00ff00'];
const FONT = "'Liberation Sans', Arial, Helvetica, sans-serif";
const tops = [44, 200, 356, 512, 668];
const GL = 56, GW = 940, GH = 117;
const XMAX = 414, XSTEP = 23, YMAX = 3.28;

const grids = [], xAxes = [], yAxes = [], series = [], graphics = [];
const lineAx = {show: true, onZero: false, lineStyle: {color: '#000', width: 1}};
const tickIn = {show: true, inside: true, length: 5, lineStyle: {color: '#000'}};
const dotted = {show: true, lineStyle: {color: '#000', width: 1, type: [1, 3]}};

panels.forEach((p, k) => {
  grids.push({left: GL, top: tops[k], width: GW, height: GH, containLabel: false, outerBoundsMode: 'none',
    show: true, borderColor: '#000', borderWidth: 1, backgroundColor: '#fff'});
  xAxes.push({type: 'value', gridIndex: k, min: 0, max: XMAX, interval: XSTEP, position: 'bottom',
    axisLine: lineAx, axisTick: tickIn, splitLine: dotted,
    axisLabel: {show: k === 4, margin: 8, color: '#000', fontSize: 16, fontWeight: 'bold', fontFamily: FONT,
      formatter: v => xTickLabels[Math.round(v / XSTEP)] || ''}});
  xAxes.push({type: 'value', gridIndex: k, min: 0, max: XMAX, interval: XSTEP, position: 'top',
    axisLine: lineAx, axisTick: tickIn, splitLine: {show: false}, axisLabel: {show: false}});
  yAxes.push({type: 'value', gridIndex: k, min: 0, max: YMAX, interval: 1, position: 'left',
    axisLine: lineAx, axisTick: tickIn, splitLine: dotted,
    axisLabel: {margin: 8, color: '#000', fontSize: 15, fontWeight: 'bold', fontFamily: FONT,
      formatter: v => (Math.abs(v - Math.round(v)) < 1e-6 ? String(Math.round(v)) : '')},
    name: k === 2 ? yLabel : '', nameLocation: 'middle', nameGap: 38,
    nameTextStyle: {color: '#000', fontSize: 16, fontFamily: FONT}});
  yAxes.push({type: 'value', gridIndex: k, min: 0, max: YMAX, interval: 1, position: 'right',
    axisLine: lineAx, axisTick: tickIn, splitLine: {show: false}, axisLabel: {show: false}});
  p.forEach((arr, s) => {
    const step = s === 0 ? 1 : 2;
    series.push({type: 'line', name: seriesNames[s], xAxisIndex: 2 * k, yAxisIndex: 2 * k,
      data: arr.map((v, i) => [i * step, v]), symbol: 'none', showSymbol: false,
      lineStyle: {color: colors[s], width: 1}, itemStyle: {color: colors[s]},
      silent: true, animation: false, z: 3 + s});
  });
  graphics.push({type: 'text', x: GL + GW / 2 - 1, y: tops[k] - 22,
    style: {text: panelTitles[k], fill: '#000', fontSize: 19, fontFamily: FONT, textAlign: 'center', textVerticalAlign: 'middle'}});
});

const chart = echarts.init(document.getElementById('c'), null, {renderer: 'canvas'});
chart.setOption({
  backgroundColor: '#fff',
  animation: false,
  grid: grids, xAxis: xAxes, yAxis: yAxes, series: series,
  graphic: graphics,
  legend: {data: seriesNames.map(n => ({name: n, icon: 'rect'})), orient: 'vertical', left: 1008, top: 369,
    itemWidth: 39, itemHeight: 1, itemGap: 0, padding: [9, 17, 5, 12], selectedMode: false,
    backgroundColor: '#fff', borderColor: '#000', borderWidth: 1,
    textStyle: {color: '#000', fontSize: 17, fontFamily: FONT, lineHeight: 25, padding: [0, 0, 0, 9]}},
  tooltip: {show: false}
});
</script>
</body></html>
